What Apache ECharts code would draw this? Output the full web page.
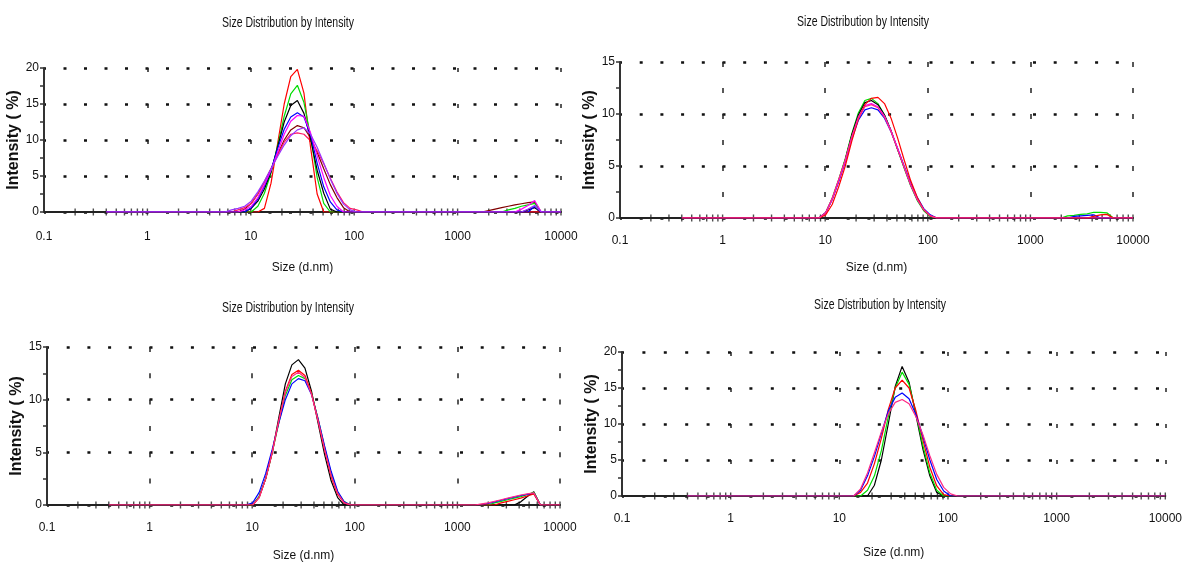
<!DOCTYPE html>
<html>
<head>
<meta charset="utf-8">
<script src="https://cdn.jsdelivr.net/npm/echarts@6/dist/echarts.min.js"></script>
<style>
  html, body { margin: 0; padding: 0; background: #fff; }
  #chart { width: 1185px; height: 563px; }
</style>
</head>
<body>
<div id="chart"></div>
<script>
// Size classes (d.nm) of the intensity distribution, 70 log-spaced bins
const SIZE_BINS = [
  0.4, 0.4632, 0.5365, 0.6213, 0.7195, 0.8332, 0.9649, 1.117, 1.294, 1.499,
  1.736, 2.010, 2.328, 2.696, 3.122, 3.615, 4.187, 4.849, 5.615, 6.503,
  7.531, 8.721, 10.10, 11.70, 13.54, 15.69, 18.17, 21.04, 24.36, 28.21,
  32.67, 37.84, 43.82, 50.75, 58.77, 68.06, 78.82, 91.28, 105.7, 122.4,
  141.8, 164.2, 190.1, 220.2, 255.0, 295.3, 342.0, 396.1, 458.7, 531.2,
  615.1, 712.4, 825.0, 955.4, 1106, 1281, 1484, 1718, 1990, 2305,
  2669, 3091, 3580, 4145, 4801, 5560, 6439, 7456, 8635, 10000
];

const TITLE_TEXT = 'Size Distribution by Intensity';
const X_NAME = 'Size (d.nm)';
const Y_NAME = 'Intensity ( %)';

// Intensity (%) per record: [first bin index, values from that bin on]; all other bins are 0
// Panel A (top left)
const A_DARKRED = [[20, [0, 0.4, 1.2, 2.5, 4.2, 6.0, 8.0, 10.0, 11.4, 12.0, 11.7, 10.3, 8.3, 6.0, 3.8, 2.0, 0.6, 0]],
                   [57, [0, 0.2, 0.4, 0.6, 0.8, 1.0, 1.15, 1.3, 1.4, 0]]];
const A_PINK    = [[19, [0, 0.3, 0.6, 1.2, 2.5, 4.2, 6.0, 7.9, 9.7, 10.8, 11.0, 10.8, 9.9, 8.5, 6.7, 4.7, 2.8, 1.3, 0.5, 0.3, 0]]];
const A_RED     = [[23, [0, 0.5, 4.0, 9.5, 15.0, 18.8, 19.8, 16.5, 9.0, 2.5, 0]]];
const A_GREEN   = [[22, [0, 0.8, 2.6, 5.4, 9.2, 13.3, 16.4, 17.6, 15.2, 10.5, 4.8, 1.2, 0]],
                   [60, [0, 0.3, 0.5, 0.8, 1.0, 1.2, 0]]];
const A_BLACK   = [[21, [0, 0.5, 1.5, 3.2, 5.6, 9.0, 12.5, 14.8, 15.5, 13.7, 10.2, 5.8, 2.6, 0.4, 0]],
                   [63, [0, 0.3, 0.6, 0]]];
const A_BLUE    = [[21, [0, 0.6, 1.8, 3.6, 5.8, 8.8, 11.5, 13.2, 13.8, 13.2, 10.7, 6.8, 3.5, 1.4, 0.3, 0]],
                   [64, [0, 0.8, 0]]];
const A_MAGENTA = [[20, [0, 0.3, 0.8, 2.0, 3.8, 5.8, 8.3, 10.8, 12.6, 13.4, 13.3, 11.0, 7.8, 4.8, 2.3, 0.8, 0]],
                   [62, [0, 0.4, 0.9, 1.6, 0]]];
const A_PURPLE  = [[18, [0, 0.3, 0.5, 0.8, 1.5, 2.8, 4.3, 6.0, 7.7, 9.3, 10.6, 11.4, 11.7, 10.8, 9.0, 6.8, 4.6, 2.6, 1.1, 0.3, 0]],
                   [63, [0, 0.4, 0.9, 0]]];

// Panel B (top right)
const B_GREEN   = [[21, [0, 0.5, 1.9, 3.7, 5.7, 8.1, 10.1, 11.3, 11.5, 11.0, 9.9, 8.4, 6.6, 4.8, 3.1, 1.7, 0.7, 0.15, 0]],
                   [58, [0, 0.2, 0.25, 0.35, 0.4, 0.55, 0.55, 0.5, 0]]];
const B_BLACK   = [[21, [0, 0.5, 1.8, 3.6, 5.6, 8.0, 9.9, 11.1, 11.3, 10.9, 9.9, 8.4, 6.6, 4.9, 3.2, 1.8, 0.8, 0.2, 0]]];
const B_BLUE    = [[21, [0, 0.5, 1.8, 3.5, 5.4, 7.6, 9.4, 10.4, 10.6, 10.4, 9.6, 8.3, 6.7, 5.0, 3.4, 2.0, 0.9, 0.3, 0]],
                   [59, [0, 0.15, 0.2, 0.25, 0.3, 0]]];
const B_MAGENTA = [[21, [0, 0.5, 1.8, 3.6, 5.5, 7.8, 9.7, 10.8, 11.0, 10.7, 9.8, 8.4, 6.7, 4.9, 3.2, 1.8, 0.8, 0.2, 0]]];
const B_RED     = [[21, [0, 0.3, 1.3, 3.0, 5.0, 7.4, 9.5, 10.9, 11.5, 11.6, 11.0, 9.6, 7.7, 5.6, 3.6, 2.0, 0.8, 0.2, 0]],
                   [62, [0, 0.15, 0.3, 0.35, 0]]];
const B_PINK    = [[21, [0, 0.5, 1.9, 3.7, 5.6, 7.8, 9.6, 10.7, 10.9, 10.6, 9.7, 8.3, 6.6, 4.9, 3.2, 1.8, 0.8, 0.2, 0]]];

// Panel C (bottom left)
const C_BLACK   = [[22, [0, 0.8, 2.5, 5.0, 8.3, 11.5, 13.3, 13.8, 13.0, 10.8, 7.8, 4.8, 2.3, 0.7, 0]],
                   [62, [0, 0.3, 0.8, 1.25, 0]]];
const C_GREEN   = [[22, [0, 0.8, 2.5, 5.0, 7.8, 10.4, 11.9, 12.3, 12.0, 10.6, 8.2, 5.5, 3.0, 1.2, 0.3, 0]],
                   [58, [0, 0.2, 0.35, 0.5, 0.65, 0.8, 1.0, 1.2, 0]]];
const C_BLUE    = [[21, [0, 0.2, 1.2, 3.0, 5.3, 7.8, 10.0, 11.5, 12.0, 11.8, 10.5, 8.2, 5.6, 3.2, 1.3, 0.3, 0]],
                   [57, [0, 0.15, 0.3, 0.45, 0.6, 0.75, 0.9, 1.0, 1.1, 0]]];
const C_RED     = [[22, [0, 0.7, 2.5, 5.0, 8.0, 10.8, 12.4, 12.8, 12.3, 10.6, 8.0, 5.2, 2.7, 1.0, 0.2, 0]],
                   [59, [0, 0.2, 0.35, 0.5, 0.65, 0.85, 1.05, 0]]];
const C_PINK    = [[22, [0, 0.7, 2.5, 5.0, 8.0, 10.7, 12.2, 12.6, 12.1, 10.5, 8.0, 5.3, 2.8, 1.1, 0.2, 0]],
                   [56, [0, 0.1, 0.2, 0.35, 0.5, 0.65, 0.8, 0.95, 1.05, 1.15, 0]]];

// Panel D (bottom right)
const D_BLACK   = [[26, [0, 1.5, 5.0, 10.0, 15.2, 18.0, 15.8, 11.2, 6.5, 2.8, 0.5, 0]]];
const D_GREEN   = [[25, [0, 0.8, 2.8, 6.3, 11.0, 15.0, 17.2, 15.5, 11.5, 7.0, 3.2, 0.8, 0]]];
const D_RED     = [[24, [0, 0.5, 1.8, 4.5, 8.0, 12.0, 15.0, 16.1, 15.0, 11.8, 7.8, 4.0, 1.4, 0.2, 0]]];
const D_BLUE    = [[24, [0, 0.8, 2.8, 5.5, 8.7, 11.8, 13.7, 14.3, 13.5, 11.3, 8.3, 5.0, 2.3, 0.7, 0]]];
const D_PINK    = [[24, [0, 1.0, 3.2, 6.0, 8.9, 11.4, 13.0, 13.4, 12.8, 11.0, 8.5, 5.6, 3.0, 1.2, 0.3, 0]]];

// Axis ranges
const X_MIN = 0.1, X_MAX = 10000;
const Y_MAX = [20, 15, 15, 20];

// Layout and styling of the four plots
const PANELS = [
  { box: { left: 44, top: 68, width: 517, height: 144 }, title: [288, 23], yMax: Y_MAX[0],
    dots: [3, 17.5], vDash: [4, 32], nameGapX: 50, labelMargin: 19, nameGapY: 19,
    curves: [['#800000', A_DARKRED], ['#ff1a66', A_PINK], ['#ff0000', A_RED], ['#00dd00', A_GREEN],
             ['#000000', A_BLACK], ['#0000ff', A_BLUE], ['#ff00ff', A_MAGENTA], ['#9933ff', A_PURPLE]] },
  { box: { left: 620, top: 62, width: 513, height: 156 }, title: [863, 21.5], yMax: Y_MAX[1],
    dots: [3, 17.7], vDash: [5, 21], nameGapX: 44, labelMargin: 17, nameGapY: 15,
    curves: [['#00dd00', B_GREEN], ['#000000', B_BLACK], ['#0000ff', B_BLUE], ['#ff00ff', B_MAGENTA],
             ['#ff0000', B_RED], ['#ff2a85', B_PINK]] },
  { box: { left: 47, top: 347, width: 513, height: 158 }, title: [288, 307.5], yMax: Y_MAX[2],
    dots: [3, 17.7], vDash: [5, 21.3], nameGapX: 45, labelMargin: 17, nameGapY: 16,
    curves: [['#000000', C_BLACK], ['#00dd00', C_GREEN], ['#0000ff', C_BLUE], ['#ff0000', C_RED],
             ['#ff2a85', C_PINK]] },
  { box: { left: 622, top: 352, width: 548, height: 144 }, title: [880, 305], yMax: Y_MAX[3],
    dots: [3, 18.4], vDash: [4, 32], nameGapX: 51, labelMargin: 17, nameGapY: 20,
    curves: [['#000000', D_BLACK], ['#00dd00', D_GREEN], ['#ff0000', D_RED], ['#0000ff', D_BLUE],
             ['#ff2a85', D_PINK]] }
];

const FONT = "'Liberation Sans', Arial, sans-serif";

// Expand a record into [size, intensity] points over every bin
function curveData(parts) {
  const vals = SIZE_BINS.map(() => 0);
  parts.forEach(([from, values]) => values.forEach((v, k) => { vals[from + k] = v; }));
  return SIZE_BINS.map((s, i) => [s, vals[i]]);
}

// Minor/major tick marks along the size axis (1..9 of each decade)
const X_TICKS = [];
for (let e = -1; e <= 3; e++) {
  for (let m = 1; m <= 9; m++) {
    if (e === -1 && m === 1) continue;
    X_TICKS.push([+(m * Math.pow(10, e)).toPrecision(3), 0]);
  }
}
X_TICKS.push([X_MAX, 0]);

const grids = [], xAxes = [], yAxes = [], series = [], graphics = [];

PANELS.forEach((p, gi) => {
  grids.push(Object.assign({}, p.box));
  xAxes.push({
    type: 'log', logBase: 10, gridIndex: gi, min: X_MIN, max: X_MAX,
    name: X_NAME, nameLocation: 'middle', nameGap: p.nameGapX,
    nameTextStyle: { fontFamily: FONT, fontSize: 12, color: '#111' },
    axisLine: { show: true, onZero: false, lineStyle: { color: '#222', width: 2 } },
    axisTick: { show: false },
    axisLabel: { margin: p.labelMargin, fontFamily: FONT, fontSize: 12, color: '#111',
      formatter: v => String(+(+v).toPrecision(6)) },
    splitLine: { show: true, lineStyle: { color: '#222', width: 1.5, type: p.vDash } }
  });
  yAxes.push({
    type: 'value', gridIndex: gi, min: 0, max: p.yMax, interval: 5,
    name: Y_NAME, nameLocation: 'middle', nameGap: p.nameGapY, nameRotate: 90,
    nameTextStyle: { fontFamily: FONT, fontSize: 16, fontWeight: 'bold', color: '#111' },
    axisLine: { show: true, lineStyle: { color: '#333', width: 2 } },
    axisTick: { show: true, length: 4, lineStyle: { color: '#333', width: 1.5 } },
    minorTick: { show: true, splitNumber: 2, length: 4, lineStyle: { color: '#333', width: 1.5 } },
    axisLabel: { margin: 5, fontFamily: FONT, fontSize: 12, color: '#111' },
    splitLine: { show: true, lineStyle: { color: '#111', width: 2.5, type: p.dots, dashOffset: 1 } }
  });
  p.curves.forEach(([color, parts]) => {
    series.push({
      type: 'line', xAxisIndex: gi, yAxisIndex: gi, data: curveData(parts),
      showSymbol: false, symbol: 'none', smooth: false,
      lineStyle: { color: color, width: 1.2 }, itemStyle: { color: color },
      emphasis: { disabled: true }, silent: true, z: 3
    });
  });
  series.push({
    type: 'scatter', xAxisIndex: gi, yAxisIndex: gi, data: X_TICKS, clip: false,
    symbol: 'rect', symbolSize: [1.4, 7], itemStyle: { color: '#222' },
    silent: true, z: 2
  });
  // Plot title, drawn in a condensed face
  graphics.push({
    type: 'text', x: p.title[0], y: p.title[1], scaleX: 0.7,
    style: { text: TITLE_TEXT, fontFamily: FONT, fontSize: 15, fill: '#111',
      textAlign: 'center', textVerticalAlign: 'middle' }
  });
});

const chart = echarts.init(document.getElementById('chart'), null, { renderer: 'canvas' });
chart.setOption({
  animation: false,
  backgroundColor: '#ffffff',
  grid: grids,
  xAxis: xAxes,
  yAxis: yAxes,
  series: series,
  graphic: graphics
});
</script>
</body>
</html>
